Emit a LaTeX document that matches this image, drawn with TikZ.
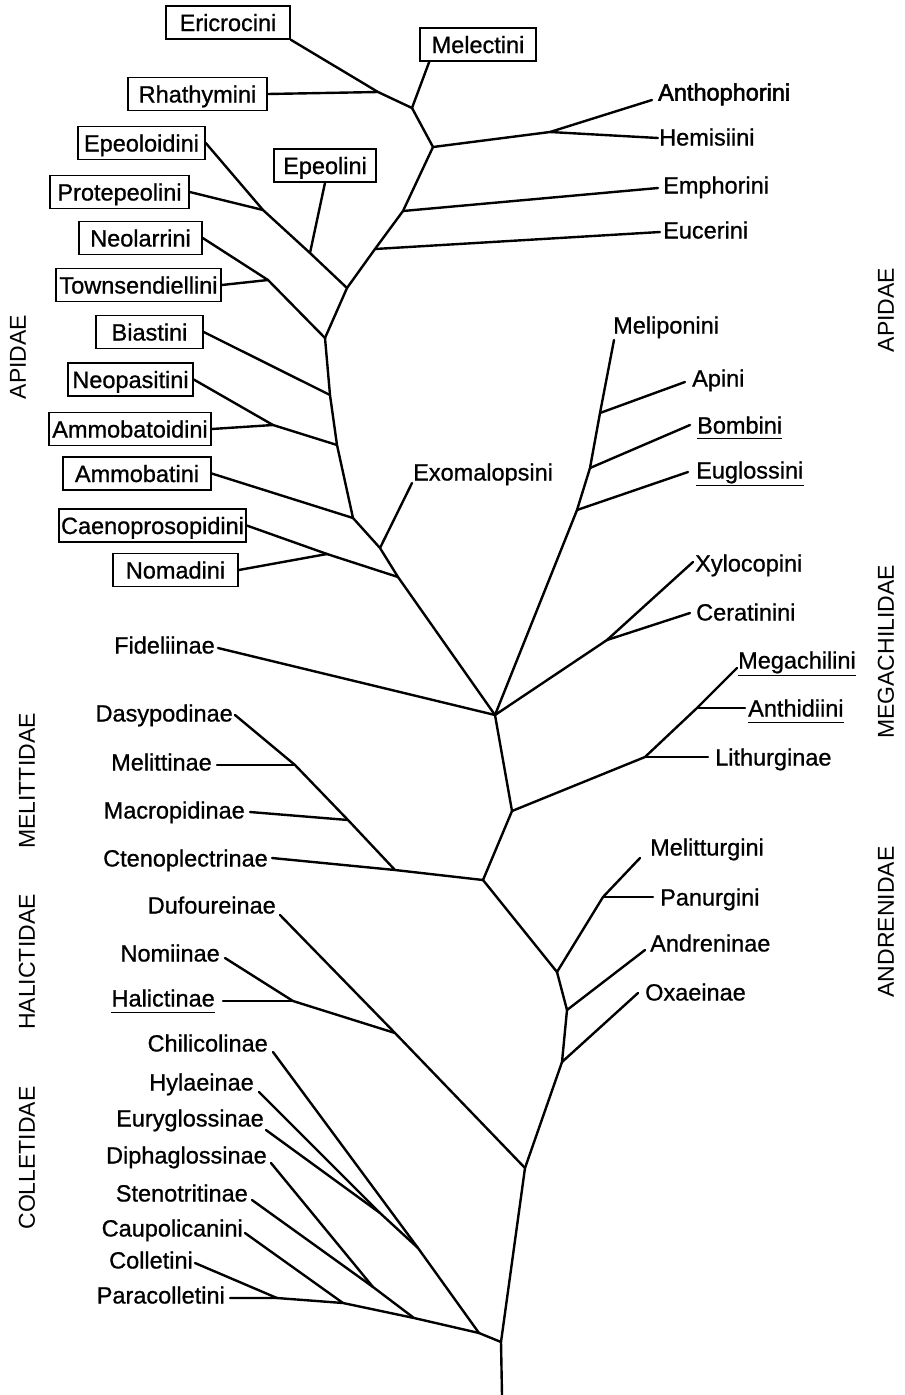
\documentclass[tikz,border=0pt]{standalone}
\usepackage{fontspec}
\setmainfont{Liberation Sans}
\newfontfamily\lettering[FakeBold=0.9]{Liberation Sans}
\newfontfamily\letteringheavy[FakeBold=2.2]{Liberation Sans}
\usetikzlibrary{calc}
\begin{document}
\begin{tikzpicture}[x=1pt,y=-1pt,
  br/.style={line width=2.4pt, line cap=round, line join=round},
  lbl/.style={inner sep=0pt, text height=17pt, text depth=0pt, font=\lettering\fontsize{23.5}{28}\selectfont},
  rl/.style={lbl, anchor=west},
  ll/.style={lbl, anchor=east},
  bx/.style={draw, line width=1.5pt, inner xsep=2pt, inner ysep=0pt, minimum height=33pt,
             text height=17pt, text depth=0pt, font=\lettering\fontsize{23.5}{28}\selectfont},
  fam/.style={rotate=90, inner sep=0pt, font=\fontsize{23}{28}\selectfont},
  ul/.style={line width=1.3pt}]
\useasboundingbox (0,0) rectangle (905,1395);

% ---------- family labels ----------
\node[fam] (fApiL) at (18,357) {APIDAE};
\node[fam] (fMelit) at (27,781) {MELITTIDAE};
\node[fam] (fHal) at (27,962) {HALICTIDAE};
\node[fam] (fCol) at (27,1158) {COLLETIDAE};
\node[fam] (fApiR) at (886,310) {APIDAE};
\node[fam] (fMeg) at (886,652) {MEGACHILIDAE};
\node[fam] (fAnd) at (886,922) {ANDRENIDAE};

% ---------- boxed labels ----------
\node[bx, minimum width=124pt] (eri) at (228,22.5) {Ericrocini};
\node[bx, minimum width=116pt] (mel) at (478,44.5) {Melectini};
\node[bx, minimum width=139pt] (rha) at (197.5,94) {Rhathymini};
\node[bx, minimum width=127pt] (epo) at (141.5,143) {Epeoloidini};
\node[bx, minimum width=102pt] (epe) at (325,165.5) {Epeolini};
\node[bx, minimum width=139pt] (pro) at (119.5,192) {Protepeolini};
\node[bx, minimum width=123pt] (neo) at (140.5,238) {Neolarrini};
\node[bx, minimum width=165pt] (tow) at (138.5,285) {Townsendiellini};
\node[bx, minimum width=107pt] (bia) at (149.5,332) {Biastini};
\node[bx, minimum width=125pt] (neop) at (130.5,379.5) {Neopasitini};
\node[bx, minimum width=162pt] (amt) at (130,429) {Ammobatoidini};
\node[bx, minimum width=148pt] (amm) at (137,473.5) {Ammobatini};
\node[bx, minimum width=187pt] (cae) at (152.5,525.5) {Caenoprosopidini};
\node[bx, minimum width=125pt] (nom) at (175.5,570) {Nomadini};

% ---------- right labels ----------
\node[rl] (anth) at (658,92) {\letteringheavy Anthophorini};
\node[rl] (hem) at (659,137) {Hemisiini};
\node[rl] (emp) at (663,185) {Emphorini};
\node[rl] (euc) at (663,230) {Eucerini};
\node[rl] (melip) at (613,325) {Meliponini};
\node[rl] (api) at (692,378) {Apini};
\node[rl] (bom) at (697,425) {Bombini};
\node[rl] (eug) at (696,470) {Euglossini};
\node[rl] (exo) at (413,472) {Exomalopsini};
\node[rl] (xyl) at (695,563) {Xylocopini};
\node[rl] (cer) at (696,612) {Ceratinini};
\node[rl] (meg) at (738,660) {Megachilini};
\node[rl] (ant) at (748,708) {Anthidiini};
\node[rl] (lit) at (715,757) {Lithurginae};
\node[rl] (mtu) at (650,847) {Melitturgini};
\node[rl] (pan) at (660,897) {Panurgini};
\node[rl] (and) at (650,943) {Andreninae};
\node[rl] (oxa) at (645,992) {Oxaeinae};

% ---------- left labels ----------
\node[ll] (fid) at (215,645) {Fideliinae};
\node[ll] (das) at (233,713) {Dasypodinae};
\node[ll] (mlt) at (212,762) {Melittinae};
\node[ll] (mac) at (245,810) {Macropidinae};
\node[ll] (cte) at (268,858) {Ctenoplectrinae};
\node[ll] (duf) at (276,905) {Dufoureinae};
\node[ll] (nmi) at (220,953) {Nomiinae};
\node[ll] (hal) at (215,998) {Halictinae};
\node[ll] (chi) at (268,1043) {Chilicolinae};
\node[ll] (hyl) at (254,1082) {Hylaeinae};
\node[ll] (eur) at (264,1118) {Euryglossinae};
\node[ll] (dip) at (267,1155) {Diphaglossinae};
\node[ll] (ste) at (248,1193) {Stenotritinae};
\node[ll] (cau) at (243,1228) {Caupolicanini};
\node[ll] (col) at (193,1260) {Colletini};
\node[ll] (par) at (225,1295) {Paracolletini};

% underlines
\draw[ul] ([yshift=-5pt]bom.south west) -- ([yshift=-5pt]bom.south east);
\draw[ul] ([yshift=-7pt]eug.south west) -- ([yshift=-7pt]eug.south east);
\draw[ul] ([yshift=-7pt]meg.south west) -- ([yshift=-7pt]meg.south east);
\draw[ul] ([yshift=-6pt]ant.south west) -- ([yshift=-6pt]ant.south east);
\draw[ul] ([yshift=-6pt]hal.south west) -- ([yshift=-6pt]hal.south east);

% ---------- junctions ----------
\coordinate (jER) at (378,92);
\coordinate (jMel) at (412,108);
\coordinate (jAnt) at (433,147);
\coordinate (jAH) at (550,132);
\coordinate (jEmp) at (403,211);
\coordinate (jEuc) at (375,249);
\coordinate (jN1) at (347,288);
\coordinate (jPro) at (263,210);
\coordinate (jEpe) at (310,253);
\coordinate (jN2) at (325,338);
\coordinate (jTow) at (268,280);
\coordinate (jBia) at (330,395);
\coordinate (jNeop) at (337,445);
\coordinate (jAmt) at (273,425);
\coordinate (jAmm) at (353,518);
\coordinate (jExo) at (380,548);
\coordinate (jCae) at (398,577);
\coordinate (jNom) at (327,554);
\coordinate (A) at (495,715);
\coordinate (jEug) at (577,510);
\coordinate (jBom) at (590,468);
\coordinate (jApi) at (600,413);
\coordinate (jCer) at (607,640);
\coordinate (B) at (512,811);
\coordinate (C) at (483,880);
\coordinate (jLit) at (645,757);
\coordinate (jAnth) at (697,708);
\coordinate (jCte) at (395,870);
\coordinate (jMac) at (348,820);
\coordinate (jMlt) at (295,765);
\coordinate (D) at (557,972);
\coordinate (jPan) at (603,897);
\coordinate (E) at (567,1010);
\coordinate (F) at (562,1062);
\coordinate (H) at (525,1168);
\coordinate (jHal) at (395,1033);
\coordinate (jNH) at (293,1001);
\coordinate (R) at (501,1342);
\coordinate (root) at (502,1395);
\coordinate (jChi) at (479,1333);
\coordinate (jHyl) at (418,1248);
\coordinate (jEur) at (380,1213);
\coordinate (jSte) at (414,1318);
\coordinate (jDip) at (373,1287);
\coordinate (jCau) at (343,1303);
\coordinate (jCol) at (277,1298);

% free ends next to the unboxed labels
\coordinate (xAnth) at (652,100);
\coordinate (xHem) at (658,138);
\coordinate (xEmp) at (658,188);
\coordinate (xEuc) at (660,232);
\coordinate (xMelip) at (614,340);
\coordinate (xApi) at (685,382);
\coordinate (xBom) at (690,425);
\coordinate (xEug) at (688,472);
\coordinate (xExo) at (412,483);
\coordinate (xXyl) at (693,562);
\coordinate (xCer) at (690,613);
\coordinate (xMeg) at (737,668);
\coordinate (xAnt) at (745,708);
\coordinate (xLit) at (708,757);
\coordinate (xMtu) at (640,858);
\coordinate (xPan) at (653,897);
\coordinate (xAnd) at (645,950);
\coordinate (xOxa) at (638,993);
\coordinate (xFid) at (218,648);
\coordinate (xDas) at (235,715);
\coordinate (xMlt) at (217,765);
\coordinate (xMac) at (250,812);
\coordinate (xCte) at (272,858);
\coordinate (xDuf) at (280,915);
\coordinate (xNmi) at (225,958);
\coordinate (xHal) at (223,1001);
\coordinate (xChi) at (273,1052);
\coordinate (xHyl) at (259,1092);
\coordinate (xEur) at (266,1130);
\coordinate (xDip) at (271,1163);
\coordinate (xSte) at (252,1200);
\coordinate (xCau) at (245,1233);
\coordinate (xCol) at (195,1263);
\coordinate (xPar) at (230,1298);

% ---------- branches ----------
% Nomadinae / Apinae upper part
\draw[br] (eri.south east) -- (jER) -- (jMel);
\draw[br] (rha.east) -- (jER);
\draw[br] ([xshift=10pt]mel.south west) -- (jMel);
\draw[br] (jMel) -- (jAnt) -- (jAH) -- (xAnth);
\draw[br] (jAH) -- (xHem);
\draw[br] (jAnt) -- (jEmp) -- (jEuc) -- (jN1);
\draw[br] (jEmp) -- (xEmp);
\draw[br] (jEuc) -- (xEuc);
\draw[br] (epo.east) -- (jPro) -- (jEpe) -- (jN1);
\draw[br] (pro.east) -- (jPro);
\draw[br] (epe.south) -- (jEpe);
\draw[br] (jN1) -- (jN2);
\draw[br] (neo.east) -- (jTow) -- (jN2);
\draw[br] (tow.east) -- (jTow);
\draw[br] (jN2) -- (jBia) -- (jNeop) -- (jAmm) -- (jExo) -- (jCae) -- (A);
\draw[br] (bia.east) -- (jBia);
\draw[br] (neop.east) -- (jAmt) -- (jNeop);
\draw[br] (amt.east) -- (jAmt);
\draw[br] (amm.east) -- (jAmm);
\draw[br] (jExo) -- (xExo);
\draw[br] (cae.east) -- (jNom) -- (jCae);
\draw[br] (nom.east) -- (jNom);
% corbiculates
\draw[br] (A) -- (jEug) -- (jBom) -- (jApi) -- (xMelip);
\draw[br] (jApi) -- (xApi);
\draw[br] (jBom) -- (xBom);
\draw[br] (jEug) -- (xEug);
% Xylocopinae
\draw[br] (A) -- (jCer) -- (xXyl);
\draw[br] (jCer) -- (xCer);
% Fideliinae
\draw[br] (xFid) -- (A);
% Megachilidae
\draw[br] (A) -- (B) -- (C);
\draw[br] (B) -- (jLit) -- (jAnth) -- (xMeg);
\draw[br] (jAnth) -- (xAnt);
\draw[br] (jLit) -- (xLit);
% Melittidae
\draw[br] (C) -- (jCte) -- (xCte);
\draw[br] (jCte) -- (jMac) -- (jMlt) -- (xDas);
\draw[br] (jMac) -- (xMac);
\draw[br] (jMlt) -- (xMlt);
% Andrenidae
\draw[br] (C) -- (D) -- (jPan) -- (xMtu);
\draw[br] (jPan) -- (xPan);
\draw[br] (D) -- (E) -- (xAnd);
\draw[br] (E) -- (F) -- (xOxa);
\draw[br] (F) -- (H);
% Halictidae
\draw[br] (H) -- (jHal) -- (xDuf);
\draw[br] (jHal) -- (jNH) -- (xNmi);
\draw[br] (jNH) -- (xHal);
% Colletidae and root
\draw[br] (H) -- (R) -- (root);
\draw[br] (R) -- (jChi) -- (jHyl) -- (xChi);
\draw[br] (jHyl) -- (jEur) -- (xHyl);
\draw[br] (jEur) -- (xEur);
\draw[br] (jChi) -- (jSte) -- (jCau) -- (jCol) -- (xPar);
\draw[br] (jSte) -- (jDip) -- (xSte);
\draw[br] (jDip) -- (xDip);
\draw[br] (jCau) -- (xCau);
\draw[br] (jCol) -- (xCol);
\end{tikzpicture}
\end{document}
